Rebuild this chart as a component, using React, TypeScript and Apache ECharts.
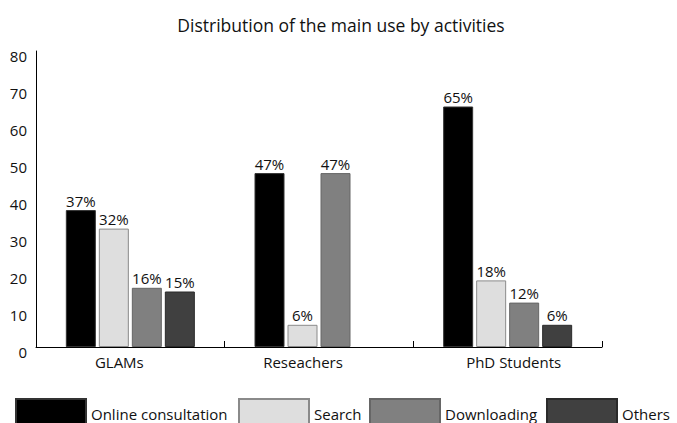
import React, { useEffect, useRef } from "react";
import * as echarts from "echarts";

const categories = ["GLAMs", "Reseachers", "PhD Students"];
const seriesNames = ["Online consultation", "Search", "Downloading", "Others"];
const onlineConsultation = [37, 47, 65];
const search = [32, 6, 18];
const downloading = [16, 47, 12];
const others: (number | string)[] = [15, "-", 6];
const yTicks = { min: 0, max: 80, interval: 10 };

const FONT = "Open Sans";

export default function App() {
  const ref = useRef<HTMLDivElement>(null);
  useEffect(() => {
    if (!ref.current) return;
    const chart = echarts.init(ref.current, undefined, { renderer: "svg" });
    const fills = ["#000000", "#dedede", "#808080", "#404040"];
    const borders = ["#333333", "#8a8a8a", "#666666", "#2a2a2a"];
    const datas = [onlineConsultation, search, downloading, others];
    const legendPos = [
      { left: 15, gap: 4 },
      { left: 238, gap: 5 },
      { left: 369, gap: 7 },
      { left: 546, gap: 11 },
    ];
    const catPad = [
      [0, 22, 0, 0],
      [0, 32, 0, 0],
      [0, 0, 0, 12],
    ];
    chart.setOption({
      animation: false,
      textStyle: { fontFamily: FONT },
      title: {
        text: "Distribution of the main use by activities",
        left: 336,
        textAlign: "center",
        top: 11,
        textStyle: { fontFamily: FONT, fontSize: 17.5, fontWeight: "normal", color: "#111" },
      },
      legend: seriesNames.map((n, i) => ({
        data: [n],
        left: legendPos[i].left,
        top: 398,
        padding: 0,
        icon: "rect",
        itemWidth: 70,
        itemHeight: 30,
        itemGap: 0,
        itemTextGap: legendPos[i].gap,
        selectedMode: false,
        textStyle: { fontFamily: FONT, fontSize: 15, lineHeight: 15, color: "#111" },
      })),
      grid: { left: 36, right: 75, top: 51, bottom: 76, containLabel: false },
      xAxis: {
        type: "category",
        data: categories.map((c, i) => ({ value: c, textStyle: { padding: catPad[i] } })),
        axisLine: { lineStyle: { color: "#000", width: 1 } },
        axisTick: { show: true, inside: true, length: 6, lineStyle: { color: "#000" } },
        axisLabel: { color: "#111", fontSize: 15, margin: 7, fontFamily: FONT },
      },
      yAxis: {
        type: "value",
        min: yTicks.min,
        max: yTicks.max,
        interval: yTicks.interval,
        splitLine: { show: false },
        axisLine: { show: true, lineStyle: { color: "#000", width: 1 } },
        axisTick: { show: false },
        axisLabel: {
          color: "#111",
          fontSize: 15,
          margin: 9,
          verticalAlign: "top",
          lineHeight: 10,
          fontFamily: FONT,
        },
      },
      series: seriesNames.map((n, i) => ({
        name: n,
        type: "bar",
        data: datas[i],
        barWidth: 30,
        barGap: "10%",
        itemStyle: { color: fills[i], borderColor: borders[i], borderWidth: 1 },
        label: {
          show: true,
          position: "top",
          distance: 2,
          formatter: "{c}%",
          color: "#111",
          fontSize: 15,
          fontFamily: FONT,
        },
      })),
    });
    return () => chart.dispose();
  }, []);
  return <div ref={ref} style={{ width: 677, height: 423, position: "absolute", left: 0, top: 0 }} />;
}
